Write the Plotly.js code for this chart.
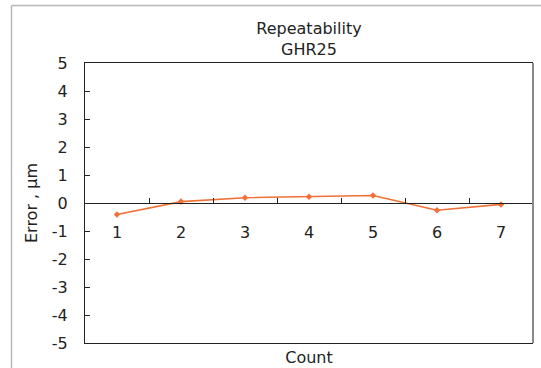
<!DOCTYPE html>
<html>
<head>
<meta charset="utf-8">
<script src="https://cdn.plot.ly/plotly-3.0.1.min.js"></script>
<style>
  html, body { margin: 0; padding: 0; background: #fff; }
  #chart { width: 541px; height: 368px; }
</style>
</head>
<body>
<div id="chart"></div>
<script>
// Repeatability test results for GHR25
const counts = ['1', '2', '3', '4', '5', '6', '7'];
const errorUm = [-0.41, 0.05, 0.19, 0.22, 0.27, -0.26, -0.05];
const yTicks = [-5, -4, -3, -2, -1, 0, 1, 2, 3, 4, 5];

const FONT = '"DejaVu Sans", "Noto Sans", sans-serif';
const INK = '#222';

const series = {
  x: counts,
  y: errorUm,
  xaxis: 'x2',
  yaxis: 'y',
  type: 'scatter',
  mode: 'lines+markers',
  line: { color: '#f07038', width: 1.6 },
  marker: { color: '#f07038', size: 5, symbol: 'diamond' },
  showlegend: false,
  hoverinfo: 'x+y'
};

// empty trace so the bottom frame axis gets its own subplot
const frameHolder = {
  x: [], y: [],
  xaxis: 'x', yaxis: 'y',
  type: 'scatter', mode: 'markers',
  showlegend: false, hoverinfo: 'skip'
};

// paper-coordinate helpers for the outer frame
const L = 85, R = 533, T = 63, B = 343;
const px = v => (v - L) / (R - L);
const py = v => (B - v) / (B - T);

const layout = {
  width: 541,
  height: 368,
  margin: { l: L, r: 541 - R, t: T, b: 368 - B },
  paper_bgcolor: '#fff',
  plot_bgcolor: '#fff',
  font: { family: FONT, color: INK, size: 16 },
  title: {
    text: 'Repeatability<br>GHR25',
    font: { family: FONT, size: 16, color: INK },
    x: 309 / 541,
    xanchor: 'center',
    y: 1 - 34 / 368,
    yanchor: 'top'
  },
  // bottom axis: frame and "Count" title only
  xaxis: {
    type: 'linear',
    anchor: 'y',
    range: [0, 1],
    showticklabels: false,
    ticks: '',
    showgrid: false,
    zeroline: false,
    showline: true,
    mirror: true,
    linecolor: INK,
    linewidth: 1,
    fixedrange: true,
    title: { text: 'Count', standoff: 8, font: { family: FONT, size: 16, color: INK } }
  },
  // category axis drawn along y = 0
  xaxis2: {
    type: 'category',
    overlaying: 'x',
    anchor: 'free',
    position: 0.5,
    side: 'bottom',
    categoryorder: 'array',
    categoryarray: counts,
    range: [-0.5, 6.5],
    tickson: 'boundaries',
    ticks: 'inside',
    ticklen: 5,
    tickcolor: INK,
    ticklabelstandoff: 15,
    tickfont: { family: FONT, size: 16, color: INK },
    showgrid: false,
    zeroline: false,
    showline: true,
    linecolor: INK,
    linewidth: 1,
    fixedrange: true
  },
  yaxis: {
    range: [-5, 5],
    tickvals: yTicks,
    ticktext: yTicks.map(String),
    ticks: 'inside',
    ticklen: 5,
    tickcolor: INK,
    ticklabelstandoff: 13,
    tickfont: { family: FONT, size: 16, color: INK },
    showgrid: false,
    zeroline: false,
    showline: true,
    linecolor: INK,
    linewidth: 1,
    fixedrange: true,
    title: { text: 'Error , \u03bcm', standoff: 10, font: { family: FONT, size: 16, color: INK } }
  },
  shapes: [
    // outer chart-area border (left and top)
    { type: 'line', xref: 'paper', yref: 'paper', x0: px(11.5), x1: px(11.5), y0: py(5.5), y1: py(368), line: { color: '#b8b8b8', width: 1.5 } },
    { type: 'line', xref: 'paper', yref: 'paper', x0: px(11.5), x1: px(541), y0: py(5.5), y1: py(5.5), line: { color: '#b8b8b8', width: 1.5 } },
    // right edge of the plot frame
    { type: 'line', xref: 'paper', yref: 'paper', x0: 1, x1: 1, y0: 0, y1: 1, line: { color: '#8a8a8a', width: 2 } }
  ]
};

Plotly.newPlot('chart', [frameHolder, series], layout, { displayModeBar: false, staticPlot: true });
</script>
</body>
</html>
